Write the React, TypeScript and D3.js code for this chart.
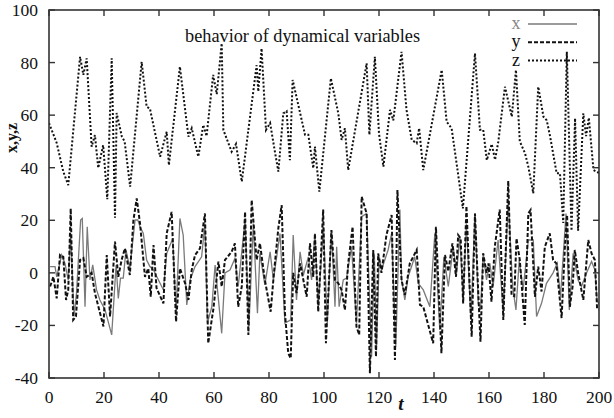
import React from "react";
import * as d3 from "d3";

// ---- data ----
const zT = [0, 2.8, 5.2, 7.0, 11.3, 12.5, 13.7, 15.5, 16.7, 17.9, 19.7, 21.2, 22.8, 24.0, 24.6, 26.5, 27.5, 29.5, 33.7, 35.5, 36.7, 40.4, 42.8, 43.6, 47.6, 50.7, 51.9, 54.3, 56.1, 57.3, 59.7, 61.0, 62.8, 63.4, 66.4, 68.0, 70.1, 75.5, 76.1, 77.3, 78.9, 80.4, 82.0, 83.4, 85.2, 86.4, 87.6, 88.6, 93.1, 94.3, 96.1, 96.7, 98.3, 102.5, 105.2, 106.4, 107.6, 108.8, 115.5, 116.5, 118.5, 120.0, 121.6, 124.0, 125.2, 128.2, 130.0, 131.9, 133.7, 134.6, 136.1, 142.8, 144.6, 146.4, 148.3, 150.5, 154.9, 156.7, 157.9, 159.2, 161.0, 162.2, 163.4, 165.8, 168.3, 169.8, 171.2, 173.1, 174.3, 176.1, 177.9, 179.8, 181.0, 182.2, 184.6, 185.8, 187.0, 188.3, 190.0, 191.3, 192.4, 194.3, 195.3, 196.3, 198.0, 200];
const zV = [57, 49.4, 38.5, 33.4, 82.2, 75.3, 81.6, 48, 52.4, 39.9, 48.6, 28, 81.6, 21, 60.8, 51.8, 50, 32.8, 80.3, 63.2, 62.5, 44.2, 53.7, 41, 78.4, 51.8, 55, 44.2, 56.3, 52, 75.3, 68, 87.3, 54.4, 46.1, 49, 34.7, 79, 69, 85.4, 54.4, 57, 47, 38.5, 60.7, 61.5, 42.9, 73.4, 52.5, 52.5, 39.8, 48, 30.9, 74, 60.7, 50.6, 55, 39.1, 79.7, 52.5, 82.2, 53, 40.4, 62, 58, 84.1, 62, 50.6, 49.3, 55, 39.1, 77.2, 57.5, 55, 41, 24.5, 83.5, 54.4, 54.4, 42.9, 49, 43, 50, 70.8, 59.4, 77.2, 50, 45.5, 40.4, 30.3, 70.8, 59.4, 58, 52, 37.9, 37.9, 19, 84.1, 16, 58.8, 16, 60.7, 52, 59, 39.1, 38];

const yT = [0.4, 1.6, 2.8, 4, 5.2, 6.2, 7, 7.9, 8.8, 9.8, 11.3, 12.5, 13.7, 14.6, 15.5, 16.7, 19.8, 21, 22.2, 24, 25.2, 26.4, 27.6, 29.4, 30.7, 31.9, 33.1, 34.9, 36.1, 37, 38, 39.1, 41.6, 42.8, 44.6, 46.2, 47.6, 49.5, 50.7, 51.9, 53.1, 54.9, 56.7, 57.9, 59.8, 61.6, 62.8, 64, 66.4, 67.6, 68.8, 70.1, 71.3, 72.5, 73.7, 75.5, 76.7, 78.5, 80.6, 81.8, 83.4, 84.6, 85.8, 87, 87.9, 88.8, 90, 91.3, 93.7, 94.9, 96.1, 96.7, 97.9, 99.7, 100.7, 102.7, 104, 105.2, 106.4, 107.6, 108.8, 110.4, 111.8, 112.8, 113.7, 115.5, 116.7, 117.9, 118.9, 119.7, 120.9, 122.7, 124.6, 125.8, 126.7, 128.2, 129.4, 131.2, 133.7, 134.9, 136.1, 139.7, 140.7, 142.7, 144, 145.2, 146.7, 148, 148.8, 149.7, 150.6, 151.8, 153.7, 154.9, 156.1, 156.9, 157.9, 159.1, 159.8, 160.9, 162.1, 163.9, 165.2, 167, 168.2, 169.2, 170, 171.2, 173, 174.3, 175.1, 176.7, 177.9, 179.1, 180.3, 182.1, 183.3, 184.5, 186.4, 187.6, 188.4, 189.4, 190.4, 191.2, 192.4, 194.3, 196.1, 197.3, 198.5, 199.3, 200];
const yV = [-5.2, -1.5, -9.7, 6.8, 6.1, -10.3, -6.5, 24.5, -17.9, -16.6, 4.9, 5.6, -1.5, -0.8, 0, -7.7, -20.4, 6.8, -16.6, 11.9, -1.5, 4.9, 9.3, -0.8, 20.1, 28.3, 18.8, -1.5, 1.7, -9.1, 10.6, -5.8, -11.6, 15, 23.2, -18.6, 1.7, -4, -10.3, 1.1, 6.8, 9.3, 22.6, -26.8, -13.5, 4.3, -5.2, 4.9, 8, 11.2, -12.9, -5.2, 23.2, -23.6, 27.7, 4.9, 11.2, -2.7, -14.8, 0, 17, 25.8, -15.4, -30.6, -32.5, 0, -7.7, 3.6, -9.1, 11.2, -1.5, 15, -14.8, 24.1, -26.8, 16.3, -2.7, -4, -6.5, -14.1, 3.6, 17.5, -20.4, -23.6, 29, 22.6, -38.2, 8.7, -31.9, 7.4, 0, 14.4, 22, -33.1, 31.5, -2.7, -8.4, 3.6, 8.7, -12.2, -12.9, -26.8, 17.5, -30.6, 6.8, 0.6, 11.2, -1.5, 14.4, 13.1, -11.6, 25.4, -24.3, 22.6, -7.7, -26.2, 7.4, 0, 3.6, -11, 9.9, 24.1, -17.9, 35, -8.4, -8.9, 13.1, 4.9, -19.8, 22.6, 23.9, -9.1, 2.4, -7.1, 9.9, 15, 4.9, 3.6, -17.2, 9.9, 22, -12.9, -5.2, 8.7, 0, -10.3, 12.5, 7.4, 4.9, -13.5, -14];

const xT = [0.4, 2.2, 2.8, 4.6, 5.8, 7, 7.9, 9.1, 10, 11.5, 12.1, 13.1, 13.9, 14.9, 15.9, 17.3, 18.5, 20.4, 22.8, 24.4, 25.2, 26, 27, 28, 29.4, 31.3, 32.3, 33.1, 34.3, 35.5, 36.7, 38, 39.8, 41.6, 42.8, 45, 46.2, 47.6, 48.8, 50.1, 51.3, 53.1, 55.5, 56.7, 57.6, 59.2, 60.4, 62.8, 64, 65.8, 67.6, 68.8, 71.3, 72.7, 74.3, 75.8, 76.7, 78.5, 80.4, 81.6, 84, 85.8, 87.9, 88.8, 90, 91.3, 92.5, 94.3, 95.5, 96.7, 97.9, 99.8, 101.2, 102.7, 104, 104.6, 105.5, 107, 108.2, 110, 111.8, 113.7, 115.5, 117.3, 118.3, 119.1, 120.1, 120.9, 123.3, 124.6, 126.1, 127.6, 128.2, 129.4, 130.6, 133, 134.3, 136.1, 138.5, 140.3, 142.1, 143.6, 145.2, 147, 148.2, 149.4, 150.6, 151.8, 153.4, 154.9, 156.1, 156.9, 157.9, 159.1, 160.3, 161.5, 163.3, 165.2, 167, 168.6, 169.8, 171, 172.4, 174.3, 176.1, 177.3, 179.1, 180.9, 183.3, 184.8, 186, 188, 189.2, 190.6, 192.4, 193.6, 195.5, 197.3, 198.5, 199.3, 200];
const xV = [2.4, 2.4, -1.5, 6.8, 3.6, -2.7, 15, -16.6, -7.7, 20.1, 20.7, -12.9, 17.5, -2.7, 3, -6.5, -10.3, -14.1, -23.6, 3, -9.7, -2, -2, 8.7, 1.7, 20.1, 20.1, 17.5, 15, 4.9, 2.4, 1.1, -2.7, -6.5, 7.4, 13.1, -14.8, 20.7, 14.4, -12.2, -2.7, 2.4, 6.1, 18.8, -19.1, -12.9, 3, -23, 0, 1.1, 5.5, -5.2, 20.1, -20.4, 18.8, -15.4, 7.4, -4.6, 8, -2.7, 15, -19.1, -17.9, 14.4, -10.3, 8, -0.8, 6.1, -2.7, 15, -12.9, 17.5, -19.1, 16.3, -12.9, 9.9, -12.9, -2.7, -2, 9.9, -19.1, 21.4, 22.6, -31.9, 7.4, -28.1, 6.1, 1.1, 8.7, 15, -28.1, 24.1, -2.7, -10.3, -1.5, 6.1, -4, -6.5, -12.9, 15, -21.7, 6.1, -5.2, 9.9, 0, 13.7, -9.1, 18.8, -17.9, 22.6, -11.6, -14.1, 7.4, -2.7, 3.6, -5.2, 12.5, -15.4, 27.7, -5.2, -14.1, 4.9, -6.5, 12.5, 12.5, -16.6, -11.6, -4, 0, 3.6, -9.1, 22.6, -14.1, 7.4, -2.7, -5.2, 0, 4.3, 1.1, -10.3, -12];

const xTicks = [0, 20, 40, 60, 80, 100, 120, 140, 160, 180, 200];
const yTicks = [-40, -20, 0, 20, 40, 60, 80, 100];
const legendLabels = ["x", "y", "z"];
const titleText = "behavior of dynamical variables";

export default function App() {
  const W = 614, H = 418;
  const L = 49, R = 599, T = 10, B = 378;
  const sx = d3.scaleLinear().domain([0, 200]).range([L, R]);
  const sy = d3.scaleLinear().domain([-40, 100]).range([B, T]);
  const mk = (ts: number[], vs: number[]) =>
    d3.line<number>().x((_, i) => sx(ts[i])).y((v) => sy(v))(vs) || "";

  const serif = "'Liberation Serif', 'DejaVu Serif', serif";
  const styles = [
    { stroke: "#7a7a7a", width: 1.3, dash: "" },
    { stroke: "#111", width: 2, dash: "4,2" },
    { stroke: "#111", width: 2, dash: "2,2" },
  ];
  const paths = [mk(xT, xV), mk(yT, yV), mk(zT, zV)];
  const tl = 6;

  return (
    <svg width={W} height={H} style={{ position: "absolute", left: 0, top: 0, background: "#fff" }}>
      <defs>
        <clipPath id="plot">
          <rect x={L} y={T} width={R - L} height={B - T} />
        </clipPath>
      </defs>
      <g clipPath="url(#plot)">
        {paths.map((d, i) => (
          <path key={i} d={d} fill="none" stroke={styles[i].stroke} strokeWidth={styles[i].width}
            strokeDasharray={styles[i].dash || undefined} strokeLinejoin="miter" />
        ))}
      </g>
      <rect x={L} y={T} width={R - L} height={B - T} fill="none" stroke="#333" strokeWidth={1.6} />
      {xTicks.map((t) => (
        <g key={"xt" + t}>
          <line x1={sx(t)} x2={sx(t)} y1={B} y2={B - tl} stroke="#333" strokeWidth={1.4} />
          <line x1={sx(t)} x2={sx(t)} y1={T} y2={T + tl} stroke="#333" strokeWidth={1.4} />
          <text x={sx(t)} y={403} textAnchor="middle" fontFamily={serif} fontSize={17.5} fill="#111">{t}</text>
        </g>
      ))}
      {yTicks.map((v) => (
        <g key={"yt" + v}>
          <line x1={L} x2={L + tl} y1={sy(v)} y2={sy(v)} stroke="#333" strokeWidth={1.4} />
          <line x1={R} x2={R - tl} y1={sy(v)} y2={sy(v)} stroke="#333" strokeWidth={1.4} />
          <text x={38} y={sy(v) + 6} textAnchor="end" fontFamily={serif} fontSize={17.5} fill="#111">{v}</text>
        </g>
      ))}
      <text x={0} y={0} transform="translate(17,138) rotate(-90)" textAnchor="middle" fontFamily={serif}
        fontSize={16} fontWeight="bold" fill="#111">x,y,z</text>
      <text x={401} y={410} textAnchor="middle" fontFamily={serif} fontSize={19} fontWeight="bold"
        fontStyle="italic" fill="#111">t</text>
      <text x={185} y={42} fontFamily={serif} fontSize={18.3} fill="#111">{titleText}</text>
      {legendLabels.map((lab, i) => {
        const ly = 24 + i * 18.3;
        return (
          <g key={lab}>
            <text x={516} y={ly + 5} textAnchor="middle" fontFamily={serif} fontSize={18}
              fill={i === 0 ? "#888" : "#111"}>{lab}</text>
            <line x1={528} x2={577} y1={ly} y2={ly} stroke={styles[i].stroke} strokeWidth={styles[i].width}
              strokeDasharray={styles[i].dash || undefined} />
          </g>
        );
      })}
    </svg>
  );
}
